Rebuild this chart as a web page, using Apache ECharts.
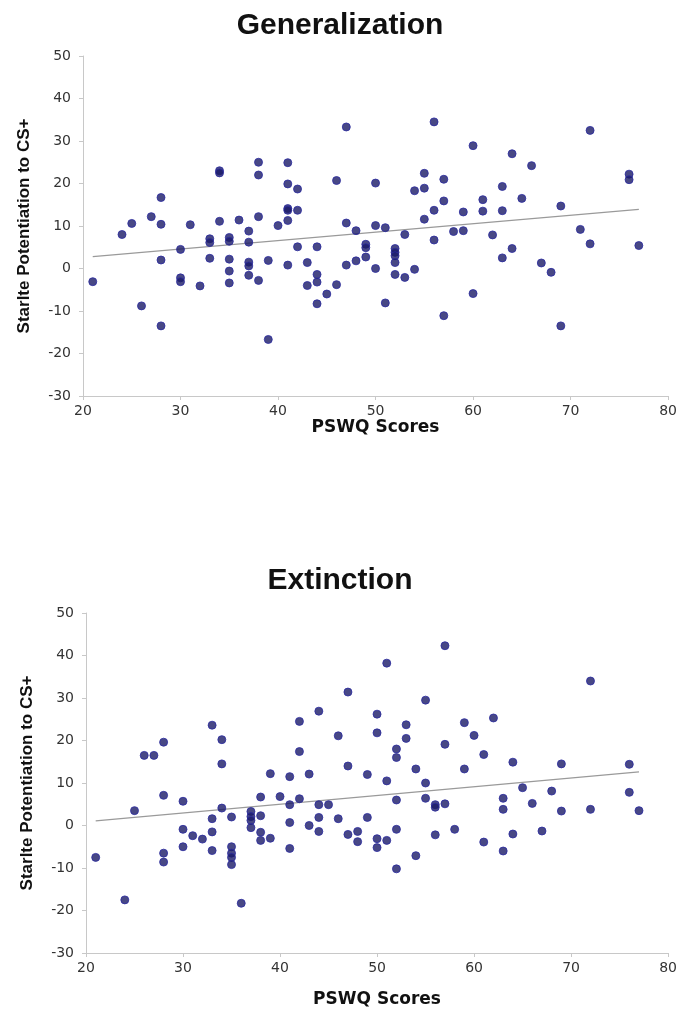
<!DOCTYPE html>
<html>
<head>
<meta charset="utf-8">
<script src="https://cdn.jsdelivr.net/npm/echarts@6/dist/echarts.min.js"></script>
<style>
  html, body { margin: 0; padding: 0; background: #fff; }
  #chart { width: 680px; height: 1024px; }
</style>
</head>
<body>
<div id="chart"></div>
<script>
// values
var titles = ['Generalization', 'Extinction'];
var xTicks = [20, 30, 40, 50, 60, 70, 80];
var yTicks = [-30, -20, -10, 0, 10, 20, 30, 40, 50];

var genX = [21,24,25,26,27,28,28,28,28,30,30,30,31,32,33,33,33,34,34,34,35,35,35,35,35,36,37,37,37,37,37,38,38,38,38,39,39,40,41,41,41,41,41,41,42,42,42,43,43,44,44,44,44,45,46,46,47,47,47,48,48,49,49,49,50,50,50,51,51,52,52,52,52,52,53,53,54,54,55,55,55,56,56,56,57,57,57,58,59,59,60,60,61,61,62,63,63,63,64,64,65,66,67,68,69,69,71,72,72,76,76,77];
var genY = [-3.1,8.0,10.6,-8.8,12.2,16.7,10.4,2.0,-13.5,4.5,-2.2,-3.1,10.3,-4.1,7.0,6.1,2.4,23.0,22.5,11.1,7.3,6.4,2.2,-0.6,-3.4,11.4,8.8,6.2,1.5,0.6,-1.6,25.0,22.0,12.2,-2.8,1.9,-16.7,10.1,24.9,19.9,14.1,13.7,11.3,0.8,18.7,13.7,5.1,1.4,-4.0,5.1,-1.4,-3.2,-8.3,-6.0,20.7,-3.8,33.3,10.7,0.8,8.9,1.8,5.7,4.9,2.7,20.1,10.1,0.0,9.6,-8.1,4.7,3.8,3.0,1.4,-1.4,8.0,-2.1,18.3,-0.2,22.4,18.9,11.6,34.5,13.7,6.7,21.0,15.9,-11.1,8.7,13.3,8.9,28.9,-5.9,16.2,13.5,7.9,19.3,13.6,2.5,27.0,4.7,16.5,24.2,1.3,-0.9,14.7,-13.5,9.2,32.5,5.8,22.2,20.9,5.4];

var extX = [21,24,25,26,27,28,28,28,28,30,30,30,31,32,33,33,33,33,34,34,34,35,35,35,35,35,36,37,37,37,37,38,38,38,38,39,39,40,41,41,41,41,42,42,42,43,43,44,44,44,44,45,46,46,47,47,47,48,48,49,49,50,50,50,50,51,51,51,52,52,52,52,52,53,53,54,54,55,55,55,56,56,56,57,57,57,58,59,59,60,61,61,62,63,63,63,64,64,65,66,67,68,69,69,72,72,76,76,77];
var extY = [-7.5,-17.5,3.5,16.5,16.5,19.6,7.1,-6.5,-8.6,5.7,-0.9,-5.0,-2.4,-3.2,23.6,1.6,-1.5,-5.9,20.2,14.5,4.1,2.0,-5.0,-6.5,-7.5,-9.2,-18.3,3.3,2.1,1.2,-0.5,6.7,2.3,-1.6,-3.5,12.2,-3.0,6.8,11.5,4.9,0.7,-5.4,24.5,17.4,6.3,12.1,0.0,26.9,4.9,1.9,-1.4,4.9,21.1,1.6,31.4,14.0,-2.1,-1.4,-3.8,12.0,1.9,26.2,21.8,-3.1,-5.2,38.2,10.5,-3.5,18.0,16.0,6.0,-0.9,-10.2,23.7,20.5,13.3,-7.1,29.5,10.0,6.4,4.9,4.3,-2.2,42.3,19.1,5.1,-0.9,24.2,13.3,21.2,16.7,-3.9,25.3,6.4,3.8,-6.0,14.9,-2.0,8.9,5.2,-1.3,8.1,14.5,3.4,34.0,3.8,14.4,7.8,3.5];

// trend line end points
var trendX = [21, 77];
var genTrend = [2.8, 13.9];
var extTrend = [1.1, 12.6];

function pairs(xs, ys) {
  return xs.map(function (x, i) { return [x, ys[i]]; });
}

var axisGray = '#c8c8c8';
var labelStyle = { color: '#333', fontSize: 14, fontFamily: 'DejaVu Sans, sans-serif' };

function xAxis(idx, gap) {
  return {
    type: 'value', gridIndex: idx, min: 20, max: 80, interval: 10,
    name: 'PSWQ Scores', nameLocation: 'middle', nameGap: gap,
    nameTextStyle: { color: '#111', fontSize: 17, fontWeight: 'bold', fontFamily: 'DejaVu Sans, sans-serif' },
    axisLine: { show: true, onZero: false, lineStyle: { color: axisGray } },
    axisTick: { show: true, length: 4, lineStyle: { color: axisGray } },
    axisLabel: Object.assign({ margin: 8 }, labelStyle),
    splitLine: { show: false }
  };
}
function yAxis(idx) {
  return {
    type: 'value', gridIndex: idx, min: -30, max: 50, interval: 10,
    name: 'Starlte Potentiation to CS+', nameLocation: 'middle', nameGap: 50,
    nameTextStyle: { color: '#111', fontSize: 17, fontWeight: 'bold', fontFamily: 'Liberation Sans, Arial, sans-serif' },
    axisLine: { show: true, onZero: false, lineStyle: { color: axisGray } },
    axisTick: { show: true, length: 4, lineStyle: { color: axisGray } },
    axisLabel: Object.assign({ margin: 12 }, labelStyle),
    splitLine: { show: false }
  };
}
function scatter(idx, data) {
  return {
    type: 'scatter', xAxisIndex: idx, yAxisIndex: idx, data: data,
    symbolSize: 8, itemStyle: { color: '#1a1a66', borderColor: '#2a2aa0', borderWidth: 1 },
    z: 3
  };
}
function trend(idx, ys) {
  return {
    type: 'line', xAxisIndex: idx, yAxisIndex: idx, data: pairs(trendX, ys),
    showSymbol: false, lineStyle: { color: '#9a9a9a', width: 1.2 }, z: 2, silent: true
  };
}

var titleStyle = { fontSize: 30, fontWeight: 'bold', color: '#111', fontFamily: 'Liberation Sans, Arial, sans-serif' };
var chart = echarts.init(document.getElementById('chart'), null, { renderer: 'canvas' });
chart.setOption({
  backgroundColor: '#fff',
  animation: false,
  title: [
    { text: titles[0], left: 'center', top: 6, textStyle: titleStyle },
    { text: titles[1], left: 'center', top: 561, textStyle: titleStyle }
  ],
  grid: [
    { left: 83, right: 11, top: 56, height: 340 },
    { left: 86, right: 10, top: 613, height: 340 }
  ],
  xAxis: [xAxis(0, 22), xAxis(1, 38)],
  yAxis: [yAxis(0), yAxis(1)],
  series: [
    scatter(0, pairs(genX, genY)),
    trend(0, genTrend),
    scatter(1, pairs(extX, extY)),
    trend(1, extTrend)
  ]
});
</script>
</body>
</html>
